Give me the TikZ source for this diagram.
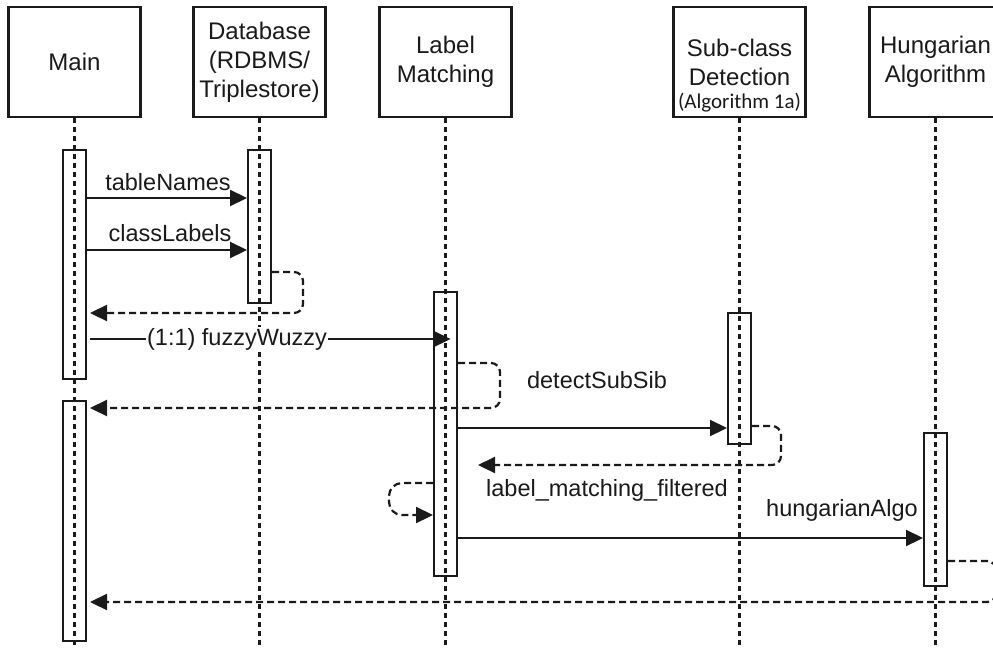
\documentclass[tikz,border=0pt]{standalone}
\usepackage{fontspec}
\setmainfont{Liberation Sans}
\newfontfamily\calibrifont{Carlito}
\usetikzlibrary{arrows.meta}
\definecolor{ink}{HTML}{1A1A1A}
\begin{document}
\begin{tikzpicture}[x=1pt,y=-1pt,
  actor/.style={draw=ink, line width=2.3pt, fill=white, minimum width=132pt,
    minimum height=110pt, inner sep=0pt, align=center,
    font=\fontsize{24}{29}\selectfont, text=ink},
  bar/.style={draw=ink, line width=2pt, fill=white, minimum width=23pt, inner sep=0pt},
  life/.style={ink, line width=2.2pt, dash pattern=on 5pt off 4pt},
  call/.style={ink, line width=2.2pt, -{Triangle[length=17pt,width=16pt]}},
  reply/.style={call, dash pattern=on 7pt off 4pt, rounded corners=9pt},
  selfreply/.style={reply, rounded corners=13pt},
  lbl/.style={font=\fontsize{23.5}{28}\selectfont, text=ink, inner sep=1pt}
]
\useasboundingbox (0,0) rectangle (993,648);
\clip (0,0) rectangle (993,648);

% participants
\node[actor] (main) at (74.5,62) {Main};
\node[actor] (db)   at (259.5,62) {Database\\(RDBMS/\\Triplestore)};
\node[actor] (lm)   at (445.5,62) {Label\\Matching};
\node[actor] (sc)   at (739.5,62) {Sub-class\\Detection};
\node[font=\calibrifont\fontsize{21}{24}\selectfont, text=ink, inner sep=0pt]
  (scnote) at (739.5,103) {(Algorithm 1a)};
\node[actor] (hu)   at (935.5,62) {Hungarian\\Algorithm};

% activation bars
\node[bar, minimum height=229pt] (mainA) at (74.5,264.5) {};
\node[bar, minimum height=240pt] (mainB) at (74.5,521) {};
\node[bar, minimum height=153pt] (dbA)   at (259.5,226.5) {};
\node[bar, minimum height=284pt] (lmA)   at (445.5,434) {};
\node[bar, minimum height=131pt] (scA)   at (739.5,378.5) {};
\node[bar, minimum height=153pt] (huA)   at (935.5,509.5) {};

% lifelines
\coordinate (bottom) at (0,648);
\foreach \p in {main,db,lm,sc,hu}
  \draw[life] (\p.south) -- (\p.south |- bottom);

% message rows
\coordinate (yTable)   at (0,198);
\coordinate (yClass)   at (0,250);
\coordinate (yDbOut)   at (0,272);
\coordinate (dbTurn)   at (303,313);
\coordinate (yFuzzy)   at (0,339);
\coordinate (yLmOut)   at (0,363);
\coordinate (lmTurn)   at (500,408);
\coordinate (yDetect)  at (0,428);
\coordinate (yScOut)   at (0,426);
\coordinate (scTurn)   at (781,465);
\coordinate (scEnd)    at (478,465);
\coordinate (ySelfTop) at (0,483);
\coordinate (selfTurn) at (389,515);
\coordinate (yHung)    at (0,538);
\coordinate (yHuOut)   at (0,561);
\coordinate (huTurn)   at (996,602);

% messages
\draw[call] (mainA.east |- yTable) -- (dbA.west |- yTable);
\node[lbl] (tTable) at (168,182) {tableNames};

\draw[call] (mainA.east |- yClass) -- (dbA.west |- yClass);
\node[lbl] (tClass) at (170,233) {classLabels};

\draw[reply] (dbA.east |- yDbOut) -| (dbTurn) -- ([xshift=3pt]mainA.east |- dbTurn);

\draw[call] ([xshift=3pt]mainA.east |- yFuzzy) -- ([xshift=5pt]lmA.center |- yFuzzy);
\node[lbl, fill=white] (tFuzzy) at (237,339) {(1:1) fuzzyWuzzy};

\draw[reply] (lmA.east |- yLmOut) -| (lmTurn) -- ([xshift=3pt]mainB.east |- lmTurn);

\node[lbl] (tDetect) at (597,380) {detectSubSib};
\draw[call] (lmA.east |- yDetect) -- (scA.west |- yDetect);

\draw[reply] (scA.east |- yScOut) -| (scTurn) -- (scEnd);
\node[lbl] (tFiltered) at (607,490) {label\_matching\_filtered};

\draw[selfreply] (lmA.west |- ySelfTop) -| (selfTurn) -- (lmA.west |- selfTurn);

\node[lbl] (tHung) at (842,510) {hungarianAlgo};
\draw[call] (lmA.east |- yHung) -- (huA.west |- yHung);

\draw[reply] (huA.east |- yHuOut) -| (huTurn) -- ([xshift=3pt]mainB.east |- huTurn);
\end{tikzpicture}
\end{document}
